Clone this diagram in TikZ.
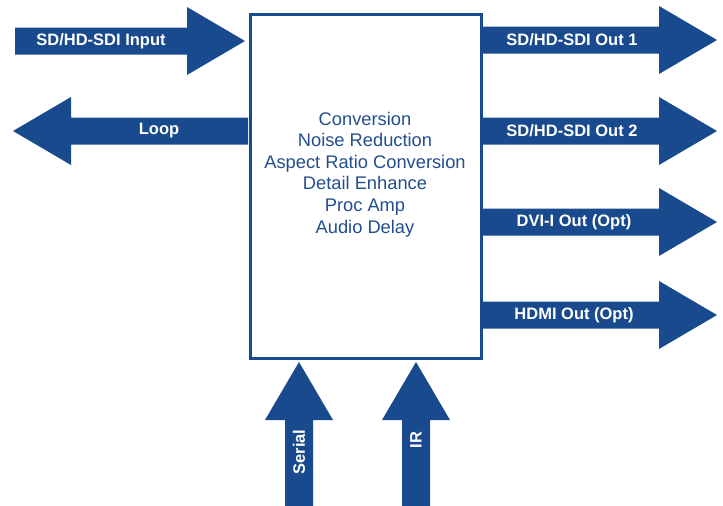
\documentclass[tikz,border=0pt]{standalone}
\usepackage{fontspec}
\setmainfont{Liberation Sans}
\definecolor{arrowblue}{HTML}{1A4A8E}
\definecolor{textblue}{HTML}{234E8E}
\newcommand\myRArrow[3]{% shaft start x, tip x, centre y
  \fill[arrowblue] (#1,#3-13.5) -- (#2-58,#3-13.5) -- (#2-58,#3-34) -- (#2,#3) -- (#2-58,#3+34) -- (#2-58,#3+13.5) -- (#1,#3+13.5) -- cycle;}
\newcommand\myLArrow[3]{% shaft start x, tip x, centre y
  \fill[arrowblue] (#1,#3-13.5) -- (#2+58,#3-13.5) -- (#2+58,#3-34) -- (#2,#3) -- (#2+58,#3+34) -- (#2+58,#3+13.5) -- (#1,#3+13.5) -- cycle;}
\newcommand\myUArrow[3]{% centre x, shaft start y, tip y
  \fill[arrowblue] (#1-14,#2) -- (#1-14,#3+58) -- (#1-34,#3+58) -- (#1,#3) -- (#1+34,#3+58) -- (#1+14,#3+58) -- (#1+14,#2) -- cycle;}
\begin{document}
\begin{tikzpicture}[x=1pt,y=-1pt,
  lbl/.style={text=white,font=\fontsize{16.5}{18}\selectfont\bfseries,inner sep=0pt},
  ctext/.style={text=textblue,font=\fontsize{18.3}{20}\selectfont,inner sep=0pt,anchor=base}]
\useasboundingbox (0,0) rectangle (723,506);
\fill[white] (0,0) rectangle (723,506);
% arrows
\myRArrow{15}{245}{41}
\myLArrow{248}{13}{131}
\myRArrow{480}{717}{40}
\myRArrow{480}{717}{131}
\myRArrow{480}{717}{222}
\myRArrow{480}{717}{315}
\myUArrow{299}{506}{362}
\myUArrow{416}{506}{362}
% main box
\node[draw=arrowblue,line width=3pt,fill=white,minimum width=231pt,minimum height=344.5pt,inner sep=0pt,anchor=north west] (box) at (248.5,12.5) {};
% labels
\node[lbl] (in) at (101,41) {SD/HD-SDI Input};
\node[lbl] (loop) at (159,131) {Loop};
\node[lbl] (o1) at (572,40) {SD/HD-SDI Out 1};
\node[lbl] (o2) at (572,131) {SD/HD-SDI Out 2};
\node[lbl] (dvi) at (574,222) {DVI-I Out (Opt)};
\node[lbl] (hdmi) at (574,315) {HDMI Out (Opt)};
\node[lbl,rotate=90] (serial) at (299,452) {Serial};
\node[lbl,rotate=90] (ir) at (416,440) {IR};
% centre text
\node[ctext] (c1) at (365,125) {Conversion};
\node[ctext] (c2) at (365,146.6) {Noise Reduction};
\node[ctext] (c3) at (365,168.2) {Aspect Ratio Conversion};
\node[ctext] (c4) at (365,189.8) {Detail Enhance};
\node[ctext] (c5) at (365,211.4) {Proc Amp};
\node[ctext] (c6) at (365,233) {Audio Delay};
\end{tikzpicture}
\end{document}
